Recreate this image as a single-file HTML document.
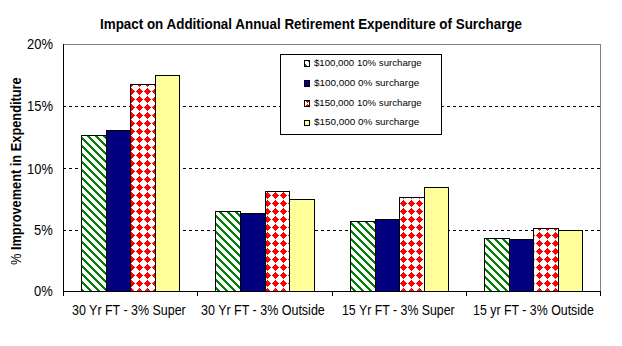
<!DOCTYPE html>
<html><head><meta charset="utf-8">
<style>
html,body{margin:0;padding:0;background:#fff;}
body{width:622px;height:346px;position:relative;overflow:hidden;font-family:"Liberation Sans",sans-serif;color:#000;}
svg{position:absolute;left:0;top:0;}
.t{position:absolute;white-space:nowrap;line-height:1;transform-origin:0 0;}
</style></head><body>
<svg width="622" height="346" viewBox="0 0 622 346" shape-rendering="crispEdges">
<defs>
<pattern id="ps" patternUnits="userSpaceOnUse" x="0" y="0" width="8" height="8"><rect width="8" height="8" fill="#fff"/><path d="M0 0h1v1h-1zM1 0h1v1h-1zM7 0h1v1h-1zM0 1h1v1h-1zM1 1h1v1h-1zM2 1h1v1h-1zM1 2h1v1h-1zM2 2h1v1h-1zM3 2h1v1h-1zM2 3h1v1h-1zM3 3h1v1h-1zM4 3h1v1h-1zM3 4h1v1h-1zM4 4h1v1h-1zM5 4h1v1h-1zM4 5h1v1h-1zM5 5h1v1h-1zM6 5h1v1h-1zM5 6h1v1h-1zM6 6h1v1h-1zM7 6h1v1h-1zM0 7h1v1h-1zM6 7h1v1h-1zM7 7h1v1h-1z" fill="#008000"/></pattern>
<pattern id="pd" patternUnits="userSpaceOnUse" x="0" y="0" width="8" height="8"><rect width="8" height="8" fill="#fff"/><path d="M3 0h1v1h-1zM2 1h1v1h-1zM3 1h1v1h-1zM4 1h1v1h-1zM1 2h1v1h-1zM2 2h1v1h-1zM3 2h1v1h-1zM4 2h1v1h-1zM5 2h1v1h-1zM0 3h1v1h-1zM1 3h1v1h-1zM2 3h1v1h-1zM3 3h1v1h-1zM4 3h1v1h-1zM5 3h1v1h-1zM6 3h1v1h-1zM1 4h1v1h-1zM2 4h1v1h-1zM3 4h1v1h-1zM4 4h1v1h-1zM5 4h1v1h-1zM2 5h1v1h-1zM3 5h1v1h-1zM4 5h1v1h-1zM3 6h1v1h-1z" fill="#FF0000"/></pattern>
</defs>
<line x1="63" y1="44.5" x2="600" y2="44.5" stroke="#808080"/>
<line x1="600.5" y1="44" x2="600.5" y2="291" stroke="#808080"/>
<line x1="63" y1="106.5" x2="600" y2="106.5" stroke="#000" stroke-width="1" stroke-dasharray="3 3"/><line x1="63" y1="168.5" x2="600" y2="168.5" stroke="#000" stroke-width="1" stroke-dasharray="3 3"/><line x1="63" y1="230.5" x2="600" y2="230.5" stroke="#000" stroke-width="1" stroke-dasharray="3 3"/>
<rect x="81.5" y="135.5" width="25" height="156" fill="url(#ps)" stroke="#000" stroke-width="1"/><rect x="106.5" y="130.5" width="24" height="161" fill="#000080" stroke="#000" stroke-width="1"/><rect x="130.5" y="84.5" width="25" height="207" fill="url(#pd)" stroke="#000" stroke-width="1"/><rect x="155.5" y="75.5" width="24" height="216" fill="#FFFF99" stroke="#000" stroke-width="1"/><rect x="215.5" y="211.5" width="25" height="80" fill="url(#ps)" stroke="#000" stroke-width="1"/><rect x="240.5" y="213.5" width="25" height="78" fill="#000080" stroke="#000" stroke-width="1"/><rect x="265.5" y="191.5" width="24" height="100" fill="url(#pd)" stroke="#000" stroke-width="1"/><rect x="289.5" y="199.5" width="25" height="92" fill="#FFFF99" stroke="#000" stroke-width="1"/><rect x="350.5" y="221.5" width="25" height="70" fill="url(#ps)" stroke="#000" stroke-width="1"/><rect x="375.5" y="219.5" width="24" height="72" fill="#000080" stroke="#000" stroke-width="1"/><rect x="399.5" y="197.5" width="25" height="94" fill="url(#pd)" stroke="#000" stroke-width="1"/><rect x="424.5" y="187.5" width="24" height="104" fill="#FFFF99" stroke="#000" stroke-width="1"/><rect x="484.5" y="238.5" width="25" height="53" fill="url(#ps)" stroke="#000" stroke-width="1"/><rect x="509.5" y="239.5" width="24" height="52" fill="#000080" stroke="#000" stroke-width="1"/><rect x="533.5" y="228.5" width="25" height="63" fill="url(#pd)" stroke="#000" stroke-width="1"/><rect x="558.5" y="230.5" width="24" height="61" fill="#FFFF99" stroke="#000" stroke-width="1"/>
<line x1="63.5" y1="44" x2="63.5" y2="296" stroke="#000"/>
<line x1="63" y1="291.5" x2="601" y2="291.5" stroke="#000"/>
<line x1="63.5" y1="291" x2="63.5" y2="296" stroke="#000" stroke-width="1"/><line x1="197.5" y1="291" x2="197.5" y2="296" stroke="#000" stroke-width="1"/><line x1="332.5" y1="291" x2="332.5" y2="296" stroke="#000" stroke-width="1"/><line x1="466.5" y1="291" x2="466.5" y2="296" stroke="#000" stroke-width="1"/><line x1="600.5" y1="291" x2="600.5" y2="296" stroke="#000" stroke-width="1"/>
<rect x="280.5" y="54.5" width="161" height="80" fill="#fff" stroke="#000"/>
<rect x="304.5" y="60.5" width="5" height="6" fill="url(#ps)" stroke="#000" stroke-width="1"/><rect x="304.5" y="80.5" width="5" height="6" fill="#000080" stroke="#000" stroke-width="1"/><rect x="304.5" y="100.5" width="5" height="6" fill="url(#pd)" stroke="#000" stroke-width="1"/><rect x="304.5" y="120.5" width="5" height="5" fill="#FFFF99" stroke="#000" stroke-width="1"/>
</svg>
<div class="t" style="left:100.01px;top:16.83px;font-size:13.5px;font-weight:bold;transform:scale(0.9929,1.0833)">Impact on Additional Annual Retirement Expenditure of Surcharge</div>
<div class="t" style="left:27.07px;top:37.00px;font-size:14px;font-weight:normal;transform:scale(0.9259,1.0000)">20%</div>
<div class="t" style="left:27.07px;top:99.00px;font-size:14px;font-weight:normal;transform:scale(0.9259,1.0000)">15%</div>
<div class="t" style="left:27.07px;top:162.00px;font-size:14px;font-weight:normal;transform:scale(0.9259,1.0000)">10%</div>
<div class="t" style="left:34.48px;top:223.00px;font-size:14px;font-weight:normal;transform:scale(0.9259,1.0000)">5%</div>
<div class="t" style="left:34.48px;top:284.00px;font-size:14px;font-weight:normal;transform:scale(0.9259,1.0000)">0%</div>
<div class="t" style="left:72.04px;top:302.83px;font-size:13px;font-weight:normal;transform:scale(0.9576,1.0833)">30 Yr FT - 3% Super</div>
<div class="t" style="left:201.04px;top:302.78px;font-size:13px;font-weight:normal;transform:scale(0.9606,1.1111)">30 Yr FT - 3% Outside</div>
<div class="t" style="left:342.05px;top:302.83px;font-size:13px;font-weight:normal;transform:scale(0.9492,1.0833)">15 Yr FT - 3% Super</div>
<div class="t" style="left:473.05px;top:302.83px;font-size:13px;font-weight:normal;transform:scale(0.9520,1.0833)">15 yr FT - 3% Outside</div>
<div class="t" style="left:314.00px;top:59.00px;font-size:10px;font-weight:normal;transform:scale(0.9640,0.9000)">$100,000 10% surcharge</div>
<div class="t" style="left:314.00px;top:79.00px;font-size:10px;font-weight:normal;transform:scale(0.9906,0.9000)">$100,000 0% surcharge</div>
<div class="t" style="left:314.00px;top:99.00px;font-size:10px;font-weight:normal;transform:scale(0.9640,0.9000)">$150,000 10% surcharge</div>
<div class="t" style="left:314.00px;top:118.00px;font-size:10px;font-weight:normal;transform:scale(0.9906,0.9000)">$150,000 0% surcharge</div>
<div class="t" style="left:8.83px;top:264.98px;font-size:13px;font-weight:bold;transform:rotate(-90deg) scale(0.9841,1.0833)"><span style="font-weight:normal">%</span> Improvement in Expenditure</div>
</body></html>
